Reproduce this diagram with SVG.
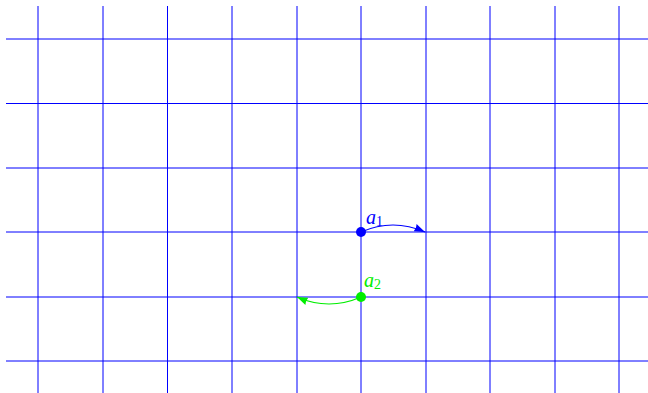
<svg xmlns="http://www.w3.org/2000/svg" width="648" height="393" viewBox="0 0 648 393">
<style>
.g{stroke:#0000ff;stroke-width:1;fill:none}
.lbl{font-family:"Liberation Serif",serif;font-style:italic;font-size:20px}
.sub{font-family:"Liberation Serif",serif;font-size:14px;font-style:normal}
</style>
<defs>
<marker id="ab" markerWidth="11" markerHeight="8" refX="11" refY="4" orient="auto" markerUnits="userSpaceOnUse"><path d="M0,0 L11,4 L0,8 Q2,4 0,0Z" fill="#0000ff"/></marker>
<marker id="ag" markerWidth="11" markerHeight="8" refX="11" refY="4" orient="auto" markerUnits="userSpaceOnUse"><path d="M0,0 L11,4 L0,8 Q2,4 0,0Z" fill="#00ee00"/></marker>
</defs>
<rect width="648" height="393" fill="#fff"/>
<g id="grid" class="g">
<path d="M38,6V393M103,6V393M167.5,6V393M232,6V393M297,6V393M361,6V393M426,6V393M490,6V393M555,6V393M619,6V393"/>
<path d="M6,39H648M6,103.5H648M6,168H648M6,232H648M6,297H648M6,361H648"/>
</g>
<g id="connectors">
<path d="M361,232 Q393,218 425,232" stroke="#0000ff" stroke-width="1.2" fill="none" marker-end="url(#ab)"/>
<path d="M361,297 Q329,311 297,297" stroke="#00ee00" stroke-width="1.2" fill="none" marker-end="url(#ag)"/>
</g>
<g id="a1">
<circle cx="361" cy="232" r="5" fill="#0000ff"/>
<text x="366" y="224" class="lbl" fill="#0000ff">a<tspan class="sub" dy="2">1</tspan></text>
</g>
<g id="a2">
<circle cx="361" cy="297" r="5" fill="#00ee00"/>
<text x="364" y="287" class="lbl" fill="#00ee00">a<tspan class="sub" dy="2">2</tspan></text>
</g>
</svg>
